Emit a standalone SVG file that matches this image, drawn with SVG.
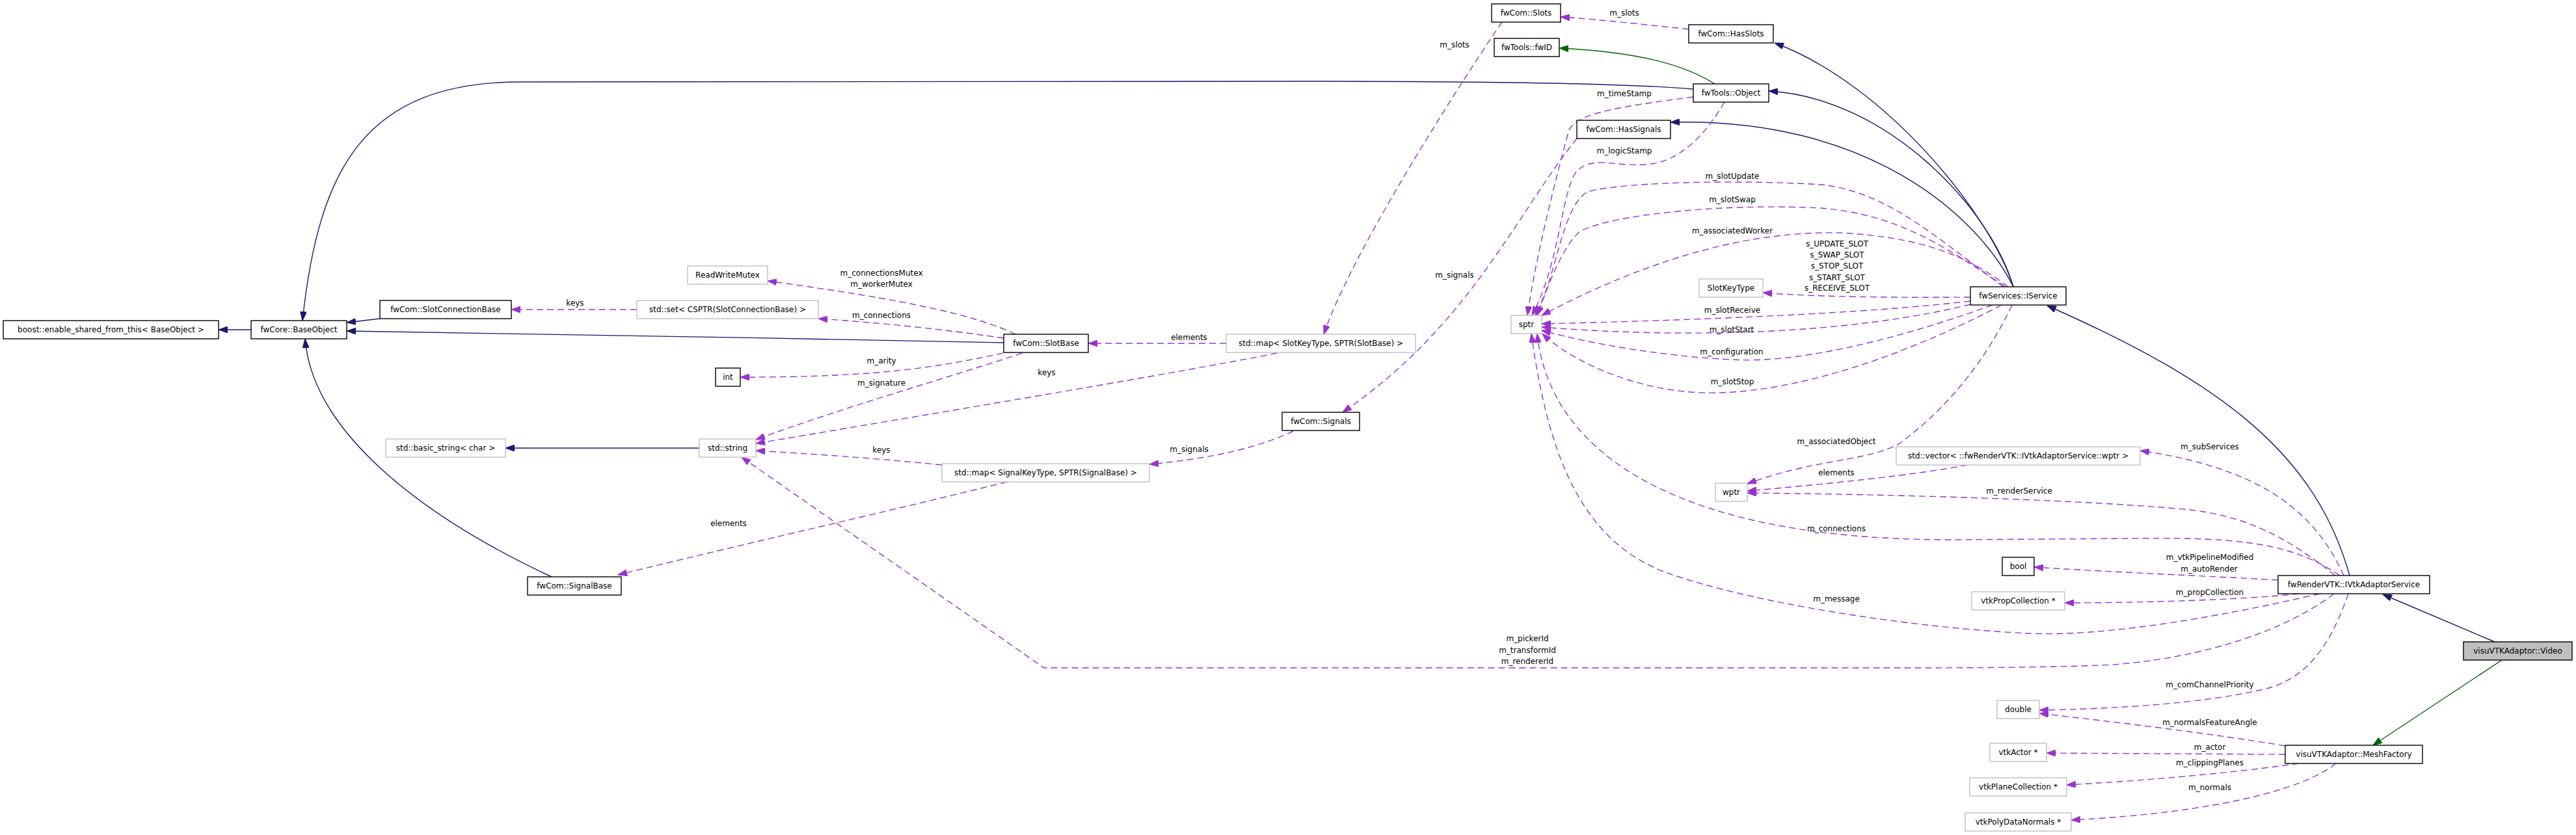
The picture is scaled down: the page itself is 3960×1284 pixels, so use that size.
<svg xmlns="http://www.w3.org/2000/svg" width="3960" height="1284" viewBox="0 0 3960 1284">
<style>
text{font-family:"DejaVu Sans","Liberation Sans",sans-serif;font-size:12px;text-anchor:middle;fill:#000}
.n rect{fill:#fff;stroke:#000;stroke-width:1.4}
.u rect{fill:#fff;stroke:#bfbfbf;stroke-width:1.4}
.v rect{fill:#bfbfbf;stroke:#000;stroke-width:1.4}
.inh{fill:none;stroke:#191970;stroke-width:1.4}
.grn{fill:none;stroke:#006400;stroke-width:1.4}
.col{fill:none;stroke:#9a32cd;stroke-width:1.4;stroke-dasharray:10,6}
</style>
<defs>
<marker id="an" markerUnits="userSpaceOnUse" viewBox="0 0 14 10" markerWidth="14" markerHeight="10" refX="14" refY="5" orient="auto"><path d="M0,0 L14,5 L0,10 z" fill="#191970" stroke="#191970"/></marker>
<marker id="ag" markerUnits="userSpaceOnUse" viewBox="0 0 14 10" markerWidth="14" markerHeight="10" refX="14" refY="5" orient="auto"><path d="M0,0 L14,5 L0,10 z" fill="#006400" stroke="#006400"/></marker>
<marker id="ap" markerUnits="userSpaceOnUse" viewBox="0 0 14 10" markerWidth="14" markerHeight="10" refX="14" refY="5" orient="auto"><path d="M0,0 L14,5 L0,10 z" fill="#9a32cd" stroke="#9a32cd"/></marker>
</defs>
<rect width="3960" height="1284" fill="#fff"/>
<g id="edges">
<g marker-end="url(#an)">
<path class="inh" d="M386,507 L336,507"/>
<path class="inh" d="M584,490 L533,496"/>
<path class="inh" d="M1543,527 C1200,521 900,513 533,509"/>
<path class="inh" d="M2603,137 C2500,128 2300,125 2000,125 L800,126 C560,126 490,260 465,493"/>
<path class="inh" d="M848,887 C640,790 480,660 469,521"/>
<path class="inh" d="M3095,441 C3060,330 2900,130 2728,66"/>
<path class="inh" d="M3095,441 C3060,320 2900,150 2719,140"/>
<path class="inh" d="M3095,441 C3040,330 2870,180 2568,188"/>
<path class="inh" d="M3612,885 C3560,700 3420,590 3147,470"/>
<path class="inh" d="M3835,987 L3663,914"/>
<path class="inh" d="M1075,689 L777,689"/>
</g>
<g marker-end="url(#ag)">
<path class="grn" d="M2636,129 C2590,100 2520,80 2397,74"/>
<path class="grn" d="M3846,1015 L3648,1146"/>
</g>
<g marker-end="url(#ap)">
<path class="col" d="M979,476 L786,476"/>
<path class="col" d="M1561,514 C1500,485 1400,462 1180,432"/>
<path class="col" d="M1543,520 C1450,506 1350,496 1258,490"/>
<path class="col" d="M1542,543 C1440,565 1350,580 1138,580"/>
<path class="col" d="M1571,543 C1480,574 1300,625 1162,676"/>
<path class="col" d="M1885,528 L1673,528"/>
<path class="col" d="M1963,543 C1800,575 1500,625 1162,682"/>
<path class="col" d="M1448,715 C1350,705 1250,698 1162,693"/>
<path class="col" d="M1988,663 C1930,690 1860,705 1767,714"/>
<path class="col" d="M1548,741 C1350,790 1150,835 950,884"/>
<path class="col" d="M2596,45 C2530,38 2460,30 2399,26"/>
<path class="col" d="M2309,34 C2270,90 2080,380 2035,514"/>
<path class="col" d="M2424,213 C2330,330 2260,500 2064,634"/>
<path class="col" d="M2603,149 C2480,165 2425,175 2412,200 C2390,280 2360,400 2348,485"/>
<path class="col" d="M2651,157 C2620,210 2580,250 2530,253 C2480,256 2450,240 2425,262 C2400,290 2400,400 2355,485"/>
<path class="col" d="M3080,441 C2970,360 2900,295 2800,284 C2700,277 2500,278 2440,295 C2400,320 2395,420 2360,485"/>
<path class="col" d="M3083,441 C2990,380 2920,330 2800,320 C2650,312 2480,330 2430,355 C2400,380 2380,440 2363,485"/>
<path class="col" d="M3087,441 C3020,390 2950,365 2830,358 C2700,355 2550,390 2370,485"/>
<path class="col" d="M3029,457 C2900,458 2780,456 2710,450"/>
<path class="col" d="M3029,463 C2900,478 2700,490 2370,498"/>
<path class="col" d="M3029,468 C2880,505 2650,525 2370,503"/>
<path class="col" d="M3063,469 C2950,510 2780,560 2663,553 C2560,548 2450,530 2370,508"/>
<path class="col" d="M3077,469 C2980,520 2800,600 2640,604 C2530,607 2420,560 2371,513"/>
<path class="col" d="M3093,469 C3050,560 2990,630 2920,682 C2870,710 2790,705 2686,744"/>
<path class="col" d="M3024,715 C2950,730 2800,745 2686,755"/>
<path class="col" d="M3590,885 C3520,830 3460,795 3367,784 C3200,768 2900,760 2686,758"/>
<path class="col" d="M3603,885 C3560,790 3480,720 3290,693"/>
<path class="col" d="M3597,885 C3530,840 3460,825 3280,828 L3000,830 C2550,830 2380,680 2363,513"/>
<path class="col" d="M3566,913 C3450,940 3250,980 3119,974 C2950,966 2700,930 2560,880 C2430,830 2380,700 2354,513"/>
<path class="col" d="M3502,892 C3400,886 3250,880 3127,872"/>
<path class="col" d="M3534,913 C3450,922 3300,927 3174,927"/>
<path class="col" d="M3588,913 C3520,965 3400,1010 3250,1022 C3150,1027 3000,1027 2900,1027 L1605,1027 L1140,703"/>
<path class="col" d="M3610,913 C3580,1000 3540,1050 3470,1062 C3380,1082 3250,1090 3135,1092"/>
<path class="col" d="M3513,1147 C3400,1128 3250,1110 3135,1097"/>
<path class="col" d="M3513,1160 L3146,1158"/>
<path class="col" d="M3534,1174 C3420,1190 3300,1200 3177,1207"/>
<path class="col" d="M3591,1174 C3540,1215 3400,1250 3184,1261"/>
</g>
<g id="edge-labels">
<text x="884" y="470">keys</text>
<text x="1355" y="424">m_connectionsMutex</text>
<text x="1355" y="441">m_workerMutex</text>
<text x="1355" y="489">m_connections</text>
<text x="1828" y="523">elements</text>
<text x="1355" y="559">m_arity</text>
<text x="1609" y="577">keys</text>
<text x="1355" y="593">m_signature</text>
<text x="1355" y="696">keys</text>
<text x="1828" y="695">m_signals</text>
<text x="1120" y="809">elements</text>
<text x="2497" y="24">m_slots</text>
<text x="2236" y="73">m_slots</text>
<text x="2497" y="148">m_timeStamp</text>
<text x="2497" y="236">m_logicStamp</text>
<text x="2663" y="275">m_slotUpdate</text>
<text x="2663" y="311">m_slotSwap</text>
<text x="2663" y="359">m_associatedWorker</text>
<text x="2824" y="379">s_UPDATE_SLOT</text>
<text x="2824" y="396">s_SWAP_SLOT</text>
<text x="2824" y="413">s_STOP_SLOT</text>
<text x="2824" y="431">s_START_SLOT</text>
<text x="2824" y="447">s_RECEIVE_SLOT</text>
<text x="2236" y="427">m_signals</text>
<text x="2663" y="481">m_slotReceive</text>
<text x="2662" y="511">m_slotStart</text>
<text x="2662" y="545">m_configuration</text>
<text x="2663" y="591">m_slotStop</text>
<text x="2823" y="683">m_associatedObject</text>
<text x="2823" y="731">elements</text>
<text x="3397" y="691">m_subServices</text>
<text x="3104" y="759">m_renderService</text>
<text x="2823" y="817">m_connections</text>
<text x="3397" y="861">m_vtkPipelineModified</text>
<text x="3396" y="879">m_autoRender</text>
<text x="3397" y="915">m_propCollection</text>
<text x="2823" y="925">m_message</text>
<text x="2348" y="986">m_pickerId</text>
<text x="2348" y="1004">m_transformId</text>
<text x="2348" y="1021">m_rendererId</text>
<text x="3397" y="1057">m_comChannelPriority</text>
<text x="3397" y="1115">m_normalsFeatureAngle</text>
<text x="3397" y="1153">m_actor</text>
<text x="3397" y="1177">m_clippingPlanes</text>
<text x="3397" y="1215">m_normals</text>
</g>
</g>
<g id="n_boost" class="n"><rect x="5" y="493" width="331" height="28"/><text x="170.5" y="511">boost::enable_shared_from_this&lt; BaseObject &gt;</text></g>
<g id="n_BaseObject" class="n"><rect x="386" y="493" width="147" height="28"/><text x="459.5" y="511">fwCore::BaseObject</text></g>
<g id="n_SlotConnectionBase" class="n"><rect x="584" y="462" width="202" height="28"/><text x="685" y="480">fwCom::SlotConnectionBase</text></g>
<g id="n_basic_string" class="u"><rect x="593" y="675" width="184" height="28"/><text x="685" y="693">std::basic_string&lt; char &gt;</text></g>
<g id="n_SignalBase" class="n"><rect x="811" y="887" width="144" height="28"/><text x="883" y="905">fwCom::SignalBase</text></g>
<g id="n_ReadWriteMutex" class="u"><rect x="1057" y="409" width="123" height="28"/><text x="1118.5" y="427">ReadWriteMutex</text></g>
<g id="n_set" class="u"><rect x="979" y="462" width="279" height="28"/><text x="1118.5" y="480">std::set&lt; CSPTR(SlotConnectionBase) &gt;</text></g>
<g id="n_SlotBase" class="n"><rect x="1543" y="514" width="130" height="28"/><text x="1608" y="532">fwCom::SlotBase</text></g>
<g id="n_mapSlot" class="u"><rect x="1885" y="514" width="291" height="28"/><text x="2030.5" y="532">std::map&lt; SlotKeyType, SPTR(SlotBase) &gt;</text></g>
<g id="n_int" class="n"><rect x="1100" y="566" width="38" height="28"/><text x="1119" y="584">int</text></g>
<g id="n_string" class="u"><rect x="1075" y="675" width="87" height="28"/><text x="1118.5" y="693">std::string</text></g>
<g id="n_mapSignal" class="u"><rect x="1448" y="713" width="319" height="28"/><text x="1607.5" y="731">std::map&lt; SignalKeyType, SPTR(SignalBase) &gt;</text></g>
<g id="n_Signals" class="n"><rect x="1971" y="634" width="119" height="28"/><text x="2030.5" y="652">fwCom::Signals</text></g>
<g id="n_Slots" class="n"><rect x="2293" y="6" width="106" height="28"/><text x="2346" y="24">fwCom::Slots</text></g>
<g id="n_HasSlots" class="n"><rect x="2596" y="38" width="130" height="28"/><text x="2661" y="56">fwCom::HasSlots</text></g>
<g id="n_fwID" class="n"><rect x="2297" y="59" width="100" height="28"/><text x="2347" y="77">fwTools::fwID</text></g>
<g id="n_Object" class="n"><rect x="2603" y="129" width="116" height="28"/><text x="2661" y="147">fwTools::Object</text></g>
<g id="n_HasSignals" class="n"><rect x="2424" y="185" width="144" height="28"/><text x="2496" y="203">fwCom::HasSignals</text></g>
<g id="n_SlotKeyType" class="u"><rect x="2612" y="429" width="98" height="28"/><text x="2661" y="447">SlotKeyType</text></g>
<g id="n_sptr" class="u"><rect x="2323" y="485" width="47" height="28"/><text x="2346.5" y="503">sptr</text></g>
<g id="n_IService" class="n"><rect x="3029" y="441" width="147" height="28"/><text x="3102.5" y="459">fwServices::IService</text></g>
<g id="n_wptr" class="u"><rect x="2637" y="743" width="49" height="28"/><text x="2661.5" y="761">wptr</text></g>
<g id="n_vector" class="u"><rect x="2915" y="687" width="375" height="28"/><text x="3102.5" y="705">std::vector&lt; ::fwRenderVTK::IVtkAdaptorService::wptr &gt;</text></g>
<g id="n_bool" class="n"><rect x="3078" y="857" width="49" height="28"/><text x="3102.5" y="875">bool</text></g>
<g id="n_vtkPropCollection" class="u"><rect x="3031" y="910" width="143" height="28"/><text x="3102.5" y="928">vtkPropCollection *</text></g>
<g id="n_IVtkAdaptorService" class="n"><rect x="3502" y="885" width="233" height="28"/><text x="3618.5" y="903">fwRenderVTK::IVtkAdaptorService</text></g>
<g id="n_Video" class="v"><rect x="3787" y="987" width="167" height="28"/><text x="3870.5" y="1005">visuVTKAdaptor::Video</text></g>
<g id="n_double" class="u"><rect x="3070" y="1077" width="65" height="28"/><text x="3102.5" y="1095">double</text></g>
<g id="n_MeshFactory" class="n"><rect x="3513" y="1146" width="211" height="28"/><text x="3618.5" y="1164">visuVTKAdaptor::MeshFactory</text></g>
<g id="n_vtkActor" class="u"><rect x="3059" y="1143" width="87" height="28"/><text x="3102.5" y="1161">vtkActor *</text></g>
<g id="n_vtkPlaneCollection" class="u"><rect x="3028" y="1196" width="149" height="28"/><text x="3102.5" y="1214">vtkPlaneCollection *</text></g>
<g id="n_vtkPolyDataNormals" class="u"><rect x="3021" y="1250" width="163" height="28"/><text x="3102.5" y="1268">vtkPolyDataNormals *</text></g>
</svg>
